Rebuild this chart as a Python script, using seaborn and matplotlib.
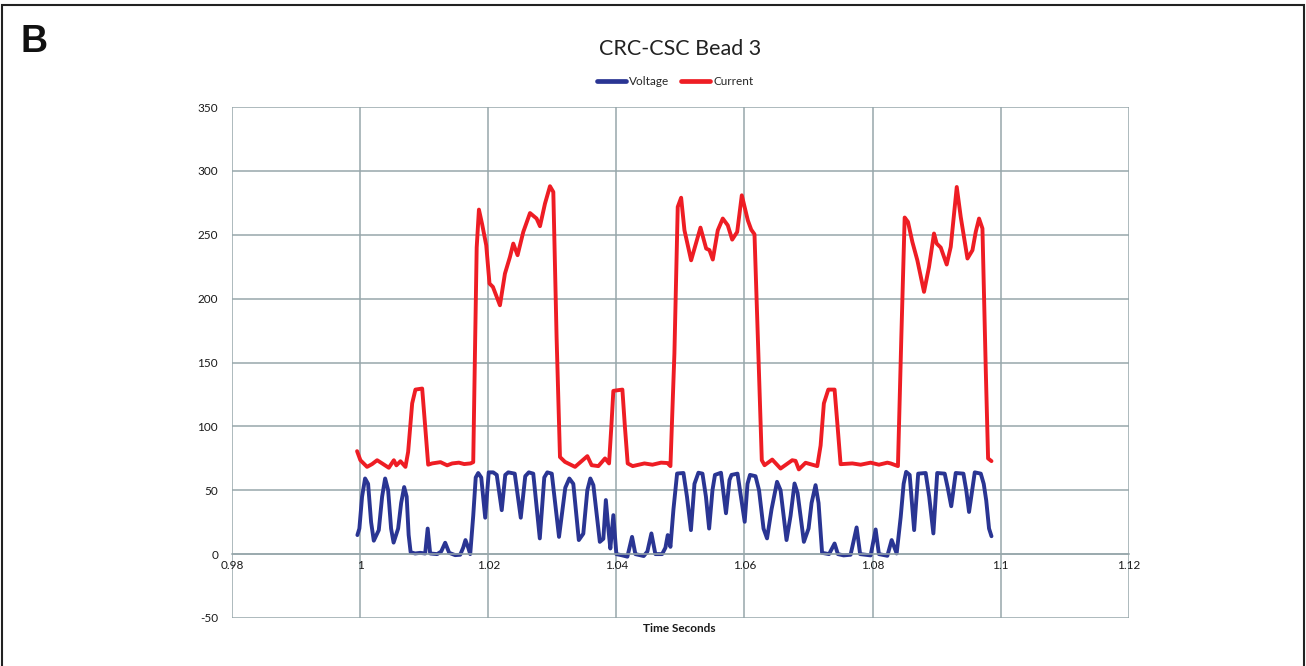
import numpy as np
import pandas as pd
import matplotlib
matplotlib.use("Agg")
import matplotlib.pyplot as plt
from matplotlib.patches import Rectangle
from matplotlib.lines import Line2D
import seaborn as sns

# Current trace (time in seconds, amplitude)
current_t = [0.99953, 1.00005, 1.00109, 1.00188, 1.00266, 1.00344, 1.00448, 1.00527,
             1.00567, 1.00630, 1.00708, 1.00750, 1.00813, 1.00864, 1.00969, 1.01016,
             1.01063, 1.01125, 1.01255, 1.01359, 1.01438, 1.01542, 1.01625, 1.01723,
             1.01766, 1.01797, 1.01820, 1.01855, 1.01906, 1.01969, 1.02020, 1.02073,
             1.02183, 1.02261, 1.02339, 1.02391, 1.02458, 1.02547, 1.02652, 1.02755,
             1.02808, 1.02886, 1.02964, 1.03016, 1.03067, 1.03120, 1.03198, 1.03355,
             1.03547, 1.03614, 1.03719, 1.03823, 1.03886, 1.03922, 1.03953, 1.04094,
             1.04133, 1.04177, 1.04255, 1.04438, 1.04563, 1.04698, 1.04797, 1.04844,
             1.04906, 1.04958, 1.05011, 1.05063, 1.05167, 1.05313, 1.05402, 1.05453,
             1.05505, 1.05583, 1.05661, 1.05739, 1.05808, 1.05886, 1.05958, 1.06052,
             1.06105, 1.06156, 1.06208, 1.06270, 1.06313, 1.06433, 1.06563, 1.06745,
             1.06797, 1.06848, 1.06953, 1.07136, 1.07188, 1.07239, 1.07308, 1.07406,
             1.07453, 1.07500, 1.07683, 1.07813, 1.07969, 1.08098, 1.08230, 1.08281,
             1.08395, 1.08448, 1.08500, 1.08552, 1.08620, 1.08698, 1.08802, 1.08880,
             1.08958, 1.09000, 1.09063, 1.09156, 1.09219, 1.09313, 1.09375, 1.09480,
             1.09558, 1.09609, 1.09661, 1.09714, 1.09766, 1.09802, 1.09855]
current_v = [80.6, 73.5, 68.3, 70.5, 73.5, 71.0, 67.6, 73.5,
             69.5, 72.7, 68.3, 80.0, 118.0, 128.8, 129.6, 100.0,
             70.0, 71.0, 72.0, 69.5, 71.0, 71.6, 70.5, 71.0,
             72.0, 170.0, 240.0, 269.7, 258.0, 241.8, 211.8, 209.2,
             194.8, 219.6, 232.6, 243.1, 234.0, 252.2, 267.0, 262.7,
             256.7, 274.4, 288.0, 283.5, 170.0, 76.0, 72.2, 68.3,
             76.7, 69.6, 68.9, 74.9, 71.0, 100.0, 127.8, 128.8,
             100.0, 71.0, 68.9, 71.0, 70.0, 71.6, 71.3, 68.9,
             157.0, 271.8, 279.0, 253.5, 230.0, 255.6, 239.2, 238.0,
             230.6, 253.5, 262.7, 257.4, 246.2, 252.2, 280.9, 261.3,
             254.0, 250.4, 170.0, 73.5, 69.6, 74.0, 67.0, 73.5,
             73.0, 66.3, 71.5, 68.9, 85.0, 118.0, 128.8, 128.8,
             100.0, 70.4, 71.0, 70.0, 71.6, 70.0, 71.6, 71.0,
             68.9, 170.0, 263.5, 260.0, 244.4, 230.0, 205.3, 224.8,
             251.0, 243.1, 240.0, 226.7, 240.5, 287.4, 264.0, 231.4,
             237.9, 252.2, 262.7, 254.9, 144.0, 74.9, 72.8]

# Voltage trace (time in seconds, amplitude)
voltage_t = [0.99958, 0.99989, 1.00031, 1.00078, 1.00125, 1.00172, 1.00214, 1.00292,
             1.00344, 1.00391, 1.00438, 1.00484, 1.00523, 1.00594, 1.00641, 1.00688,
             1.00727, 1.00758, 1.00789, 1.00859, 1.00938, 1.01016, 1.01055, 1.01094,
             1.01203, 1.01266, 1.01328, 1.01391, 1.01484, 1.01563, 1.01609, 1.01645,
             1.01688, 1.01719, 1.01766, 1.01805, 1.01844, 1.01891, 1.01953, 1.02008,
             1.02078, 1.02133, 1.02211, 1.02266, 1.02313, 1.02414, 1.02508, 1.02578,
             1.02633, 1.02703, 1.02805, 1.02875, 1.02922, 1.02992, 1.03105, 1.03203,
             1.03266, 1.03328, 1.03414, 1.03484, 1.03547, 1.03594, 1.03641, 1.03742,
             1.03797, 1.03836, 1.03875, 1.03906, 1.03953, 1.04000, 1.04094, 1.04172,
             1.04245, 1.04297, 1.04427, 1.04484, 1.04547, 1.04609, 1.04714, 1.04766,
             1.04802, 1.04844, 1.04891, 1.04948, 1.05047, 1.05102, 1.05164, 1.05219,
             1.05281, 1.05344, 1.05398, 1.05448, 1.05500, 1.05539, 1.05633, 1.05711,
             1.05766, 1.05797, 1.05891, 1.05945, 1.06003, 1.06047, 1.06086, 1.06172,
             1.06227, 1.06297, 1.06352, 1.06422, 1.06508, 1.06563, 1.06656, 1.06719,
             1.06781, 1.06828, 1.06927, 1.07000, 1.07047, 1.07109, 1.07156, 1.07211,
             1.07320, 1.07406, 1.07458, 1.07547, 1.07656, 1.07750, 1.07805, 1.07891,
             1.07969, 1.08047, 1.08098, 1.08230, 1.08297, 1.08375, 1.08438, 1.08484,
             1.08523, 1.08578, 1.08648, 1.08711, 1.08828, 1.08883, 1.08948, 1.09008,
             1.09125, 1.09172, 1.09227, 1.09297, 1.09417, 1.09461, 1.09505, 1.09594,
             1.09688, 1.09734, 1.09773, 1.09817, 1.09855]
voltage_v = [14.9, 20.0, 45.0, 59.2, 55.0, 25.0, 10.5, 18.8,
             45.0, 59.2, 50.0, 20.0, 9.0, 20.0, 40.0, 52.5,
             45.0, 15.0, 1.5, 0.5, 1.0, 0.5, 20.0, 0.5,
             0.0, 2.0, 8.9, 1.0, -0.8, -0.5, 5.0, 11.0,
             5.0, 0.0, 30.0, 60.0, 63.5, 60.0, 28.5, 64.0,
             64.0, 62.0, 34.4, 62.0, 64.0, 63.0, 28.5, 61.0,
             64.0, 63.0, 12.3, 60.0, 64.0, 63.0, 13.5, 52.0,
             59.2, 55.0, 11.0, 16.0, 50.0, 59.2, 54.0, 9.6,
             12.0, 42.3, 20.0, 4.4, 30.5, 0.0, -1.0, -2.0,
             13.5, 0.0, -1.5, 2.0, 16.2, 0.0, 0.0, 5.0,
             14.9, 5.7, 35.0, 63.1, 63.5, 45.0, 18.8, 55.0,
             63.7, 63.0, 45.0, 20.0, 50.0, 62.0, 63.7, 32.0,
             58.0, 62.0, 63.0, 45.0, 25.3, 55.0, 62.0, 61.0,
             50.0, 20.0, 12.3, 35.0, 56.6, 50.0, 11.0, 30.0,
             55.3, 48.0, 9.6, 20.0, 40.0, 54.0, 40.0, 1.0,
             0.0, 8.3, 0.0, -1.0, -0.5, 20.9, 0.0, -0.5,
             -1.0, 19.3, 0.0, -1.3, 11.0, 0.5, 29.0, 55.0,
             64.4, 62.0, 18.8, 63.0, 63.5, 45.0, 16.2, 63.5,
             63.0, 52.0, 37.5, 63.5, 63.0, 50.0, 33.0, 64.0,
             63.0, 55.0, 42.0, 20.0, 14.0]

x_ticks = [0.98, 1.0, 1.02, 1.04, 1.06, 1.08, 1.1, 1.12]
x_tick_labels = ["0.98", "1", "1.02", "1.04", "1.06", "1.08", "1.1", "1.12"]
y_ticks = [-50, 0, 50, 100, 150, 200, 250, 300, 350]
series_names = ["Voltage", "Current"]
series_colors = {"Voltage": "#2a3593", "Current": "#ee1d24"}

df = pd.concat([
    pd.DataFrame({"t": voltage_t, "value": voltage_v, "series": "Voltage"}),
    pd.DataFrame({"t": current_t, "value": current_v, "series": "Current"}),
], ignore_index=True)

sns.set_style("white")
plt.rcParams["font.family"] = ["Lato", "DejaVu Sans"]
plt.rcParams["axes.unicode_minus"] = False

fig = plt.figure(figsize=(13.06, 6.66), dpi=100)
ax = fig.add_axes([0.1776, 0.0721, 0.6868, 0.7672])

grid_color = "#97a7ab"
sns.lineplot(data=df, x="t", y="value", hue="series", hue_order=series_names,
             palette=series_colors, estimator=None, sort=False, linewidth=2.8,
             legend=False, ax=ax, solid_joinstyle="round", solid_capstyle="round")

ax.set_xlim(0.98, 1.12)
ax.set_ylim(-50, 350)
ax.set_xticks(x_ticks)
ax.set_xticklabels(x_tick_labels)
ax.set_yticks(y_ticks)
ax.grid(True, color=grid_color, linewidth=1.1)
ax.set_axisbelow(True)
for side in ["top", "right", "left"]:
    ax.spines[side].set_visible(False)
ax.spines["bottom"].set_position(("data", 0))
ax.spines["bottom"].set_color(grid_color)
ax.spines["bottom"].set_linewidth(1.1)
ax.tick_params(axis="both", length=0, labelsize=8.5, colors="#1a1a1a")
ax.tick_params(axis="x", pad=4)
ax.tick_params(axis="y", pad=10)
ax.set_xlabel("")
ax.set_ylabel("")

# axis title placed below the plot area
fig.text(0.5205, 0.057, "Time Seconds", ha="center", va="center",
         fontsize=8.5, fontweight="bold", color="#1a1a1a")

# chart title and panel letter
fig.text(0.5205, 0.927, "CRC-CSC Bead 3", ha="center", va="center",
         fontsize=15.5, color="#222222")
fig.text(0.016, 0.937, "B", ha="left", va="center", fontsize=27,
         fontweight="heavy", color="#111111", family=["Liberation Sans", "DejaVu Sans"])

handles = [Line2D([0], [0], color=series_colors[n], linewidth=3.4) for n in series_names]
fig.legend(handles, series_names, loc="center", bbox_to_anchor=(0.517, 0.877),
           ncol=2, frameon=False, fontsize=8.5, handlelength=2.4, handletextpad=0.3,
           columnspacing=1.0)

# outer panel frame
fig.patches.append(Rectangle((0.0015, -0.05), 0.997, 1.0425, transform=fig.transFigure,
                             fill=False, edgecolor="#222222", linewidth=1.5))

fig.savefig("out.png", dpi=100)
